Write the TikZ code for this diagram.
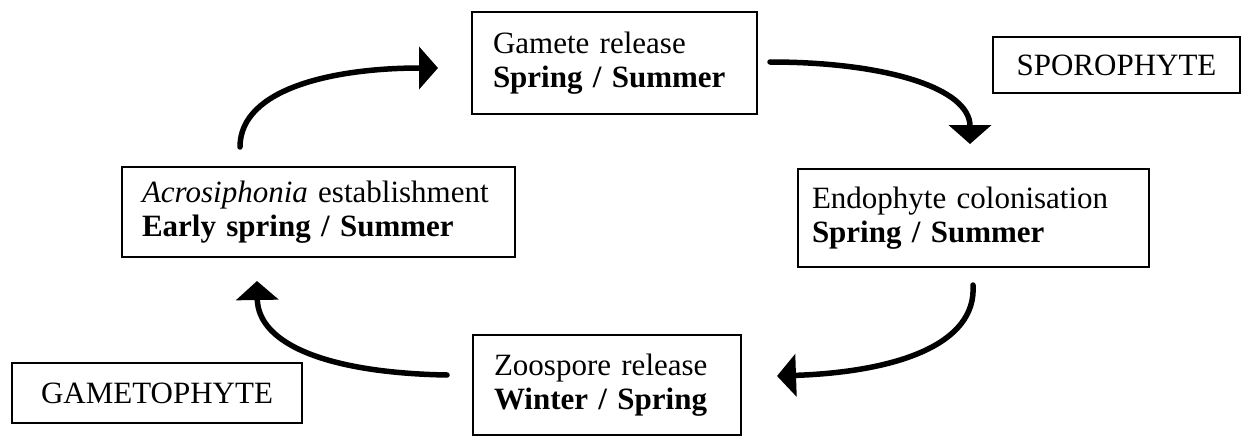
\documentclass[tikz,border=0pt]{standalone}
\usepackage{fontspec}
\setmainfont{Liberation Serif}
\usetikzlibrary{arrows.meta}
\begin{document}
\begin{tikzpicture}[x=1pt,y=-1pt,
  stagebox/.style={draw, line width=2.4pt, inner ysep=0pt,
    font=\fontsize{31}{34}\selectfont, align=left},
  phasebox/.style={draw, line width=2.4pt, inner sep=0pt,
    font=\fontsize{31}{34}\selectfont, align=center},
  cycarrow/.style={line width=5.5pt, line cap=round,
    -{Triangle[width=42pt,length=19pt]}}]
\useasboundingbox (0,0) rectangle (1245,436);

% life-cycle stages
\node[stagebox, inner xsep=21pt, text width=243pt, minimum height=102pt] (gam) at (614.5,63)
  {\mbox{Gamete release}\\\mbox{\textbf{Spring / Summer}}};
\node[stagebox, inner xsep=14pt, text width=323pt, minimum height=98pt] (endo) at (973.5,218)
  {\mbox{Endophyte colonisation}\\\mbox{\textbf{Spring / Summer}}};
\node[stagebox, inner xsep=21pt, text width=226pt, minimum height=100pt] (zoo) at (607,385)
  {\mbox{Zoospore release}\\\mbox{\textbf{Winter / Spring}}};
\node[stagebox, inner xsep=20pt, text width=353pt, minimum height=90pt] (acro) at (318.5,212)
  {\mbox{\textit{Acrosiphonia} establishment}\\\mbox{\textbf{Early spring / Summer}}};

% generation labels
\node[phasebox, minimum width=247pt, minimum height=56pt] (spo) at (1116.5,65) {SPOROPHYTE};
\node[phasebox, minimum width=290pt, minimum height=60pt] (gph) at (157,393) {GAMETOPHYTE};

% arrow ends
\coordinate (a1s) at (240,147);  \coordinate (a1e) at (438,68);
\coordinate (a2s) at (770,62);   \coordinate (a2e) at (970,144);
\coordinate (a3s) at (973,285);  \coordinate (a3e) at (777,376);
\coordinate (a4s) at (447,375);  \coordinate (a4e) at (257,281);

% cycle arrows
\draw[cycarrow] (a1s) .. controls (240,88) and (335,68) .. (a1e);
\draw[cycarrow] (a2s) .. controls (885,62) and (970,88) .. (a2e);
\draw[cycarrow] (a3s) .. controls (977,345) and (895,372) .. (a3e);
\draw[cycarrow] (a4s) .. controls (330,373) and (258,345) .. (a4e);
\end{tikzpicture}
\end{document}
